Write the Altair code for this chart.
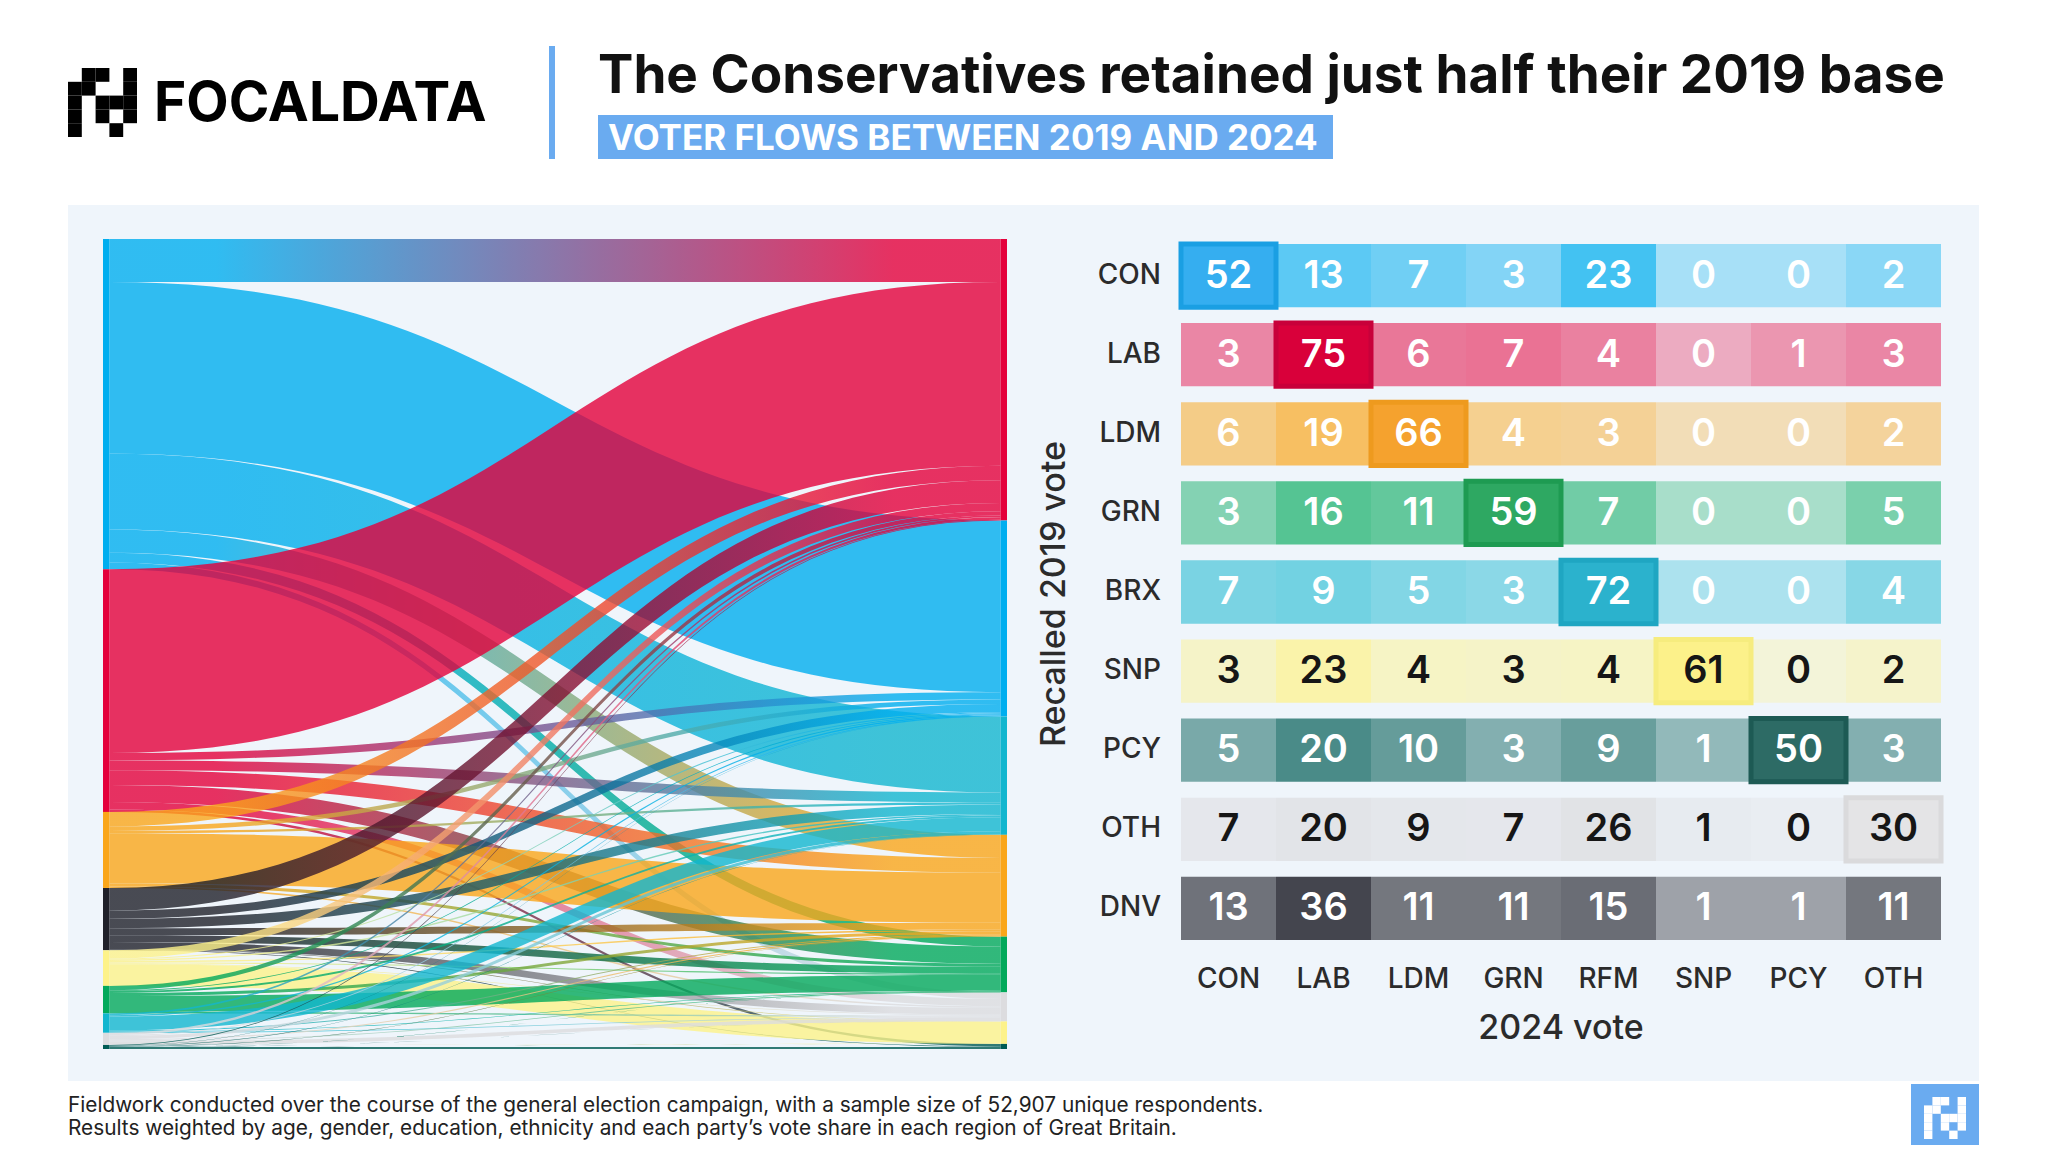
import altair as alt
import numpy as np
import pandas as pd

# ---------------- values ----------------
rows_2019 = ["CON", "LAB", "LDM", "GRN", "BRX", "SNP", "PCY", "OTH", "DNV"]
cols_2024 = ["CON", "LAB", "LDM", "GRN", "RFM", "SNP", "PCY", "OTH"]

pct_con = [52, 13, 7, 3, 23, 0, 0, 2]
pct_lab = [3, 75, 6, 7, 4, 0, 1, 3]
pct_ldm = [6, 19, 66, 4, 3, 0, 0, 2]
pct_grn = [3, 16, 11, 59, 7, 0, 0, 5]
pct_brx = [7, 9, 5, 3, 72, 0, 0, 4]
pct_snp = [3, 23, 4, 3, 4, 61, 0, 2]
pct_pcy = [5, 20, 10, 3, 9, 1, 50, 3]
pct_oth = [7, 20, 9, 7, 26, 1, 0, 30]
pct_dnv = [13, 36, 11, 11, 15, 1, 1, 11]
pct_rows = [pct_con, pct_lab, pct_ldm, pct_grn, pct_brx, pct_snp, pct_pcy, pct_oth, pct_dnv]
retained = ["CON", "LAB", "LDM", "GRN", "RFM", "SNP", "PCY", "OTH", ""]

# sankey: 2019 node order (top->bottom) and share of respondents
sankey_left = ["CON", "LAB", "LDM", "DNV", "SNP", "GRN", "BRX", "OTH", "PCY"]
share_2019 = [40.8, 30.0, 9.4, 7.7, 4.4, 3.4, 2.4, 1.5, 0.5]
sankey_right = ["LAB", "CON", "RFM", "LDM", "GRN", "OTH", "SNP", "PCY"]

title_text = "The Conservatives retained just half their 2019 base"
subtitle_text = "VOTER FLOWS BETWEEN 2019 AND 2024"
brand_text = "FOCALDATA"
x_title = "2024 vote"
y_title = "Recalled 2019 vote"
footnote_lines = [
    "Fieldwork conducted over the course of the general election campaign, with a sample size of 52,907 unique respondents.",
    "Results weighted by age, gender, education, ethnicity and each party\u2019s vote share in each region of Great Britain.",
]
logo_pattern = [
    ".XX.X",
    "XX..X",
    "X.XXX",
    "X.X.X",
    "X..X.",
]

# ---------------- styles ----------------
FONT = "Inter"
party_color = {
    "CON": "#00AEEF", "LAB": "#E4003B", "LDM": "#FAA61A", "GRN": "#02A95B",
    "BRX": "#12B6CF", "RFM": "#12B6CF", "SNP": "#FDF28A", "PCY": "#005B54",
    "OTH": "#DCDCDF", "DNV": "#1F2029",
}
hl_fill = {
    "CON": "#35AEF0", "LAB": "#D9003A", "LDM": "#F5A22E", "GRN": "#2EA862",
    "BRX": "#2BB2CD", "SNP": "#FCF18A", "PCY": "#2D6B65", "OTH": "#E4E4E6",
}
hl_stroke = {
    "CON": "#1A9FE3", "LAB": "#C8003A", "LDM": "#EE9A1E", "GRN": "#1E9B52",
    "BRX": "#1FA6C2", "SNP": "#F6EC7E", "PCY": "#1D5A54", "OTH": "#DADADC",
}
dark_text_rows = {"SNP", "OTH"}
ACCENT = "#6AABF0"
PANEL = "#EFF5FB"
LABEL_COLOR = "#2B2B2B"

W, H = 2032, 1137
SANKEY_X = [95, 999]
SANKEY_Y = [231, 1041]
HEAT_X = [1173, 1933]
HEAT_Y = [236, 932]
STRIP = 0.007

# ---------------- sankey layout ----------------
pct = dict(zip(rows_2019, pct_rows))
share = dict(zip(sankey_left, share_2019))
flow = {}
for s in sankey_left:
    rs = sum(pct[s])
    for j, t in enumerate(cols_2024):
        if pct[s][j] > 0:
            flow[(s, t)] = share[s] * pct[s][j] / rs

left_y0, acc = {}, 0.0
for s in sankey_left:
    left_y0[s] = acc
    acc += share[s]
total_left = acc
right_size = {t: sum(w for (s, tt), w in flow.items() if tt == t) for t in sankey_right}
right_y0, acc = {}, 0.0
for t in sankey_right:
    right_y0[t] = acc
    acc += right_size[t]
total_right = acc
ymax = max(total_left, total_right)

ys0, yt0 = {}, {}
for s in sankey_left:
    off = left_y0[s]
    for t in sankey_right:
        if (s, t) in flow:
            ys0[(s, t)] = off
            off += flow[(s, t)]
for t in sankey_right:
    off = right_y0[t]
    for s in sankey_left:
        if (s, t) in flow:
            yt0[(s, t)] = off
            off += flow[(s, t)]

tt = np.linspace(0, 1, 49)
bx = 1.5 * tt - 1.5 * tt ** 2 + tt ** 3
by = 3 * tt ** 2 - 2 * tt ** 3
link_rows, link_info = [], []
lid = 0
for s in sankey_left:
    for t in sankey_right:
        if (s, t) not in flow:
            continue
        w = flow[(s, t)]
        xs = STRIP + (1 - 2 * STRIP) * bx
        ytop = ys0[(s, t)] + (yt0[(s, t)] - ys0[(s, t)]) * by
        for xv, yv in zip(xs, ytop):
            link_rows.append({"link": lid, "x": float(xv), "y0": float(yv), "y1": float(yv + w)})
        link_info.append((lid, s, t))
        lid += 1
links_df = pd.DataFrame(link_rows)

node_rows = []
for s in sankey_left:
    node_rows.append({"x0": 0.0, "x1": STRIP, "y0": left_y0[s], "y1": left_y0[s] + share[s], "color": party_color[s]})
for t in sankey_right:
    node_rows.append({"x0": 1 - STRIP, "x1": 1.0, "y0": right_y0[t], "y1": right_y0[t] + right_size[t], "color": party_color[t]})
nodes_df = pd.DataFrame(node_rows)

sx = alt.Scale(domain=[0, 1], range=SANKEY_X, nice=False, zero=False)
sy = alt.Scale(domain=[0, ymax], range=SANKEY_Y, nice=False, zero=False)


def link_color(c1, c2):
    if c1 == c2:
        return c1
    return alt.LinearGradient(
        gradient="linear",
        stops=[alt.GradientStop(color=c1, offset=0.12), alt.GradientStop(color=c2, offset=0.88)],
        x1=0, x2=1, y1=0, y2=0,
    )


link_layers = []
for lid, s, t in link_info:
    link_layers.append(
        alt.Chart()
        .mark_area(color=link_color(party_color[s], party_color[t]), opacity=0.8)
        .encode(
            x=alt.X("x:Q", scale=sx, axis=None),
            y=alt.Y("y0:Q", scale=sy, axis=None),
            y2="y1:Q",
        )
        .transform_filter(alt.datum.link == lid)
    )
nodes_chart = alt.Chart(nodes_df).mark_rect().encode(
    x=alt.X("x0:Q", scale=sx, axis=None), x2="x1:Q",
    y=alt.Y("y0:Q", scale=sy, axis=None), y2="y1:Q",
    color=alt.Color("color:N", scale=None),
)
sankey = alt.layer(*link_layers, nodes_chart, data=links_df)

# ---------------- heatmap ----------------
heat_rows = []
for r, vals, keep in zip(rows_2019, pct_rows, retained):
    for c, v in zip(cols_2024, vals):
        hl = c == keep
        heat_rows.append({
            "from": r, "to": c, "value": v, "label": str(v),
            "fill": party_color[r], "hl": hl,
            "hfill": hl_fill.get(r, party_color[r]), "hstroke": hl_stroke.get(r, party_color[r]),
            "tcolor": "#161616" if r in dark_text_rows else "#FFFFFF",
        })
heat_df = pd.DataFrame(heat_rows)

hx = alt.Scale(domain=cols_2024, range=HEAT_X, paddingInner=0, paddingOuter=0)
hy = alt.Scale(domain=rows_2019, range=HEAT_Y, paddingInner=0.2, paddingOuter=0)
X = alt.X("to:N", scale=hx, axis=None)
Y = alt.Y("from:N", scale=hy, axis=None)

cells = alt.Chart().mark_rect().encode(
    x=X, y=Y,
    color=alt.Color("fill:N", scale=None),
    opacity=alt.Opacity("value:Q", scale=alt.Scale(type="sqrt", domain=[0, 50], range=[0.3, 0.92], clamp=True), legend=None),
).transform_filter("!datum.hl")
hl_cells = alt.Chart().mark_rect(strokeWidth=5).encode(
    x=X, y=Y,
    fill=alt.Fill("hfill:N", scale=None),
    stroke=alt.Stroke("hstroke:N", scale=None),
).transform_filter("datum.hl")
cell_text = alt.Chart().mark_text(font=FONT, fontSize=38, fontWeight=600, baseline="middle", dy=1).encode(
    x=X, y=Y, text="label:N", color=alt.Color("tcolor:N", scale=None)
)
row_labels = alt.Chart(pd.DataFrame({"from": rows_2019})).mark_text(
    font=FONT, fontSize=28, fontWeight=500, align="right", baseline="middle", color=LABEL_COLOR
).encode(y=Y, x=alt.value(1153), text="from:N")
col_labels = alt.Chart(pd.DataFrame({"to": cols_2024})).mark_text(
    font=FONT, fontSize=28, fontWeight=500, align="center", baseline="middle", color=LABEL_COLOR
).encode(x=X, y=alt.value(972), text="to:N")
heat = alt.layer(cells, hl_cells, cell_text, row_labels, col_labels, data=heat_df)

# ---------------- decorations ----------------
one = pd.DataFrame({"a": [0]})


def box(x, x2, y, y2, color):
    return alt.Chart(one).mark_rect(color=color).encode(
        x=alt.value(x), x2=alt.value(x2), y=alt.value(y), y2=alt.value(y2)
    )


def label(txt, x, y, size, weight=400, color="#111111", align="left", baseline="alphabetic", angle=0):
    return alt.Chart(one).mark_text(
        text=txt, font=FONT, fontSize=size, fontWeight=weight, color=color,
        align=align, baseline=baseline, angle=angle,
    ).encode(x=alt.value(x), y=alt.value(y))


def logo(x0, y0, cell, color):
    rows = []
    for i, line in enumerate(logo_pattern):
        for j, ch in enumerate(line):
            if ch == "X":
                rows.append({"x": x0 + j * cell, "x2": x0 + (j + 1) * cell,
                             "y": y0 + i * cell, "y2": y0 + (i + 1) * cell})
    return alt.Chart(pd.DataFrame(rows)).mark_rect(color=color).encode(
        x=alt.X("x:Q", scale=None), x2="x2:Q", y=alt.Y("y:Q", scale=None), y2="y2:Q"
    )


background = alt.layer(
    box(60, 1971, 197, 1073, PANEL),
    box(541, 547, 38, 151, ACCENT),
    box(590, 1325, 107, 151, ACCENT),
    box(1903, 1971, 1076, 1144, ACCENT),
)
foreground = alt.layer(
    logo(60, 60, 13.8, "#000000"),
    logo(1916, 1089, 8.4, "#FFFFFF"),
    label(brand_text, 146, 113, 55, 700, "#000000"),
    label(title_text, 590, 85, 53, 700, "#111111"),
    label(subtitle_text, 600, 142, 35, 700, "#FFFFFF"),
    label(x_title, 1553, 1021, 34, 500, LABEL_COLOR, align="center", baseline="middle"),
    label(y_title, 1047, 586, 34, 500, LABEL_COLOR, align="center", baseline="middle", angle=270),
    alt.Chart(one).mark_text(
        text=footnote_lines, font=FONT, fontSize=20.8, color="#222222", align="left",
        baseline="alphabetic", lineHeight=23,
    ).encode(x=alt.value(60), y=alt.value(1104)),
)

chart = (
    alt.layer(background, sankey, heat, foreground)
    .resolve_scale(x="independent", y="independent", color="independent", opacity="independent")
    .properties(width=W, height=H, padding=0, autosize=alt.AutoSizeParams(type="none"), background="#FFFFFF")
    .configure_view(strokeWidth=0)
)

chart.save("out.html", embed_options={"renderer": "svg", "actions": False})
